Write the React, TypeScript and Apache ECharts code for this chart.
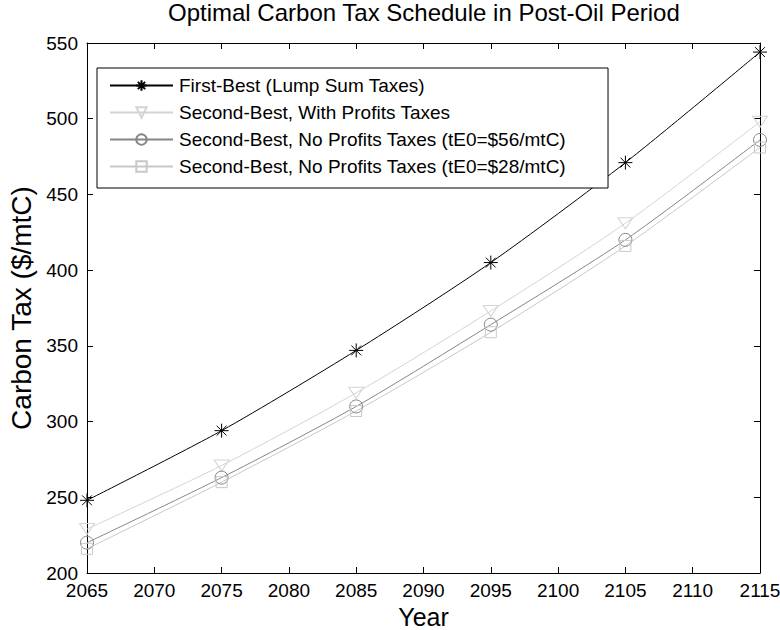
import React, { useEffect, useRef } from "react";
import * as echarts from "echarts";

const years = [2065, 2075, 2085, 2095, 2105, 2115];
const firstBest = [248, 294, 347, 405, 471, 544];
const withProfits = [229, 271, 319, 373, 431, 498];
const noProfits56 = [220, 263, 310, 364, 420, 486];
const noProfits28 = [216, 260, 307, 359, 416, 481];

const seriesNames = [
  "First-Best (Lump Sum Taxes)",
  "Second-Best, With Profits Taxes",
  "Second-Best, No Profits Taxes (tE0=$56/mtC)",
  "Second-Best, No Profits Taxes (tE0=$28/mtC)",
];

const FONT = "'Liberation Sans', Arial, Helvetica, sans-serif";

const STAR = "path://M10,0L10,20M0,10L20,10M3,3L17,17M3,17L17,3";
const TRI_DOWN = "path://M0,0L20,0L10,17Z";

function pairs(vals: number[]) {
  return years.map((y, i) => [y, vals[i]]);
}

export default function App() {
  const ref = useRef<HTMLDivElement>(null);
  useEffect(() => {
    if (!ref.current) return;
    const chart = echarts.init(ref.current, undefined, { renderer: "svg" });
    const mk = (
      name: string,
      vals: number[],
      color: string,
      symbol: string,
      size: number | number[]
    ) => ({
      name,
      type: "line",
      data: pairs(vals),
      smooth: 0.25,
      symbol,
      symbolSize: size,
      symbolKeepAspect: true,
      showAllSymbol: true,
      lineStyle: { color, width: 1 },
      itemStyle: { color: "transparent", borderColor: color, borderWidth: 1 },
      emphasis: { disabled: true },
      z: 3,
    });
    chart.setOption({
      animation: false,
      backgroundColor: "#fff",
      textStyle: { fontFamily: FONT },
      title: {
        text: "Optimal Carbon Tax Schedule in Post-Oil Period",
        left: 168,
        top: 0,
        padding: 0,
        textStyle: { fontFamily: FONT, fontSize: 24, fontWeight: "normal", color: "#000" },
      },
      grid: { left: 87, right: 20, top: 43, bottom: 57, outerBoundsMode: "none" },
      legend: {
        orient: "vertical",
        left: 97,
        top: 68,
        data: seriesNames,
        backgroundColor: "#fff",
        borderColor: "#000",
        borderWidth: 1,
        padding: [8, 42, 12, 12],
        itemWidth: 63,
        itemHeight: 13,
        itemGap: 8,
        selectedMode: false,
        textStyle: { fontFamily: FONT, fontSize: 19, color: "#000", padding: [0, 0, 0, 1] },
      },
      xAxis: [
        {
          type: "value",
          min: 2065,
          max: 2115,
          interval: 5,
          name: "Year",
          nameLocation: "middle",
          nameGap: 31,
          nameTextStyle: { fontFamily: FONT, fontSize: 25, color: "#000" },
          axisLine: { show: true, lineStyle: { color: "#000", width: 1 } },
          axisTick: { show: true, inside: true, length: 6, lineStyle: { color: "#000" } },
          axisLabel: {
            fontFamily: FONT,
            fontSize: 19,
            color: "#000",
            margin: 8,
            formatter: (v: number) => String(v),
          },
          splitLine: { show: false },
        },
        {
          type: "value",
          position: "top",
          min: 2065,
          max: 2115,
          interval: 5,
          axisLine: { show: true, lineStyle: { color: "#000", width: 1 } },
          axisTick: { show: true, inside: true, length: 6, lineStyle: { color: "#000" } },
          axisLabel: { show: false },
          splitLine: { show: false },
        },
      ],
      yAxis: [
        {
          type: "value",
          min: 200,
          max: 550,
          interval: 50,
          name: "Carbon Tax ($/mtC)",
          nameLocation: "middle",
          nameGap: 52,
          nameTextStyle: { fontFamily: FONT, fontSize: 28, color: "#000" },
          axisLine: { show: true, lineStyle: { color: "#000", width: 1 } },
          axisTick: { show: true, inside: true, length: 6, lineStyle: { color: "#000" } },
          axisLabel: { fontFamily: FONT, fontSize: 19, color: "#000", margin: 9 },
          splitLine: { show: false },
        },
        {
          type: "value",
          position: "right",
          min: 200,
          max: 550,
          interval: 50,
          axisLine: { show: true, lineStyle: { color: "#000", width: 1 } },
          axisTick: { show: true, inside: true, length: 6, lineStyle: { color: "#000" } },
          axisLabel: { show: false },
          splitLine: { show: false },
        },
      ],
      series: [
        mk(seriesNames[0], firstBest, "#000000", STAR, 14),
        mk(seriesNames[1], withProfits, "#d4d4d4", TRI_DOWN, [15, 13]),
        mk(seriesNames[2], noProfits56, "#868686", "circle", 13),
        mk(seriesNames[3], noProfits28, "#c8c8c8", "rect", 11),
      ],
    });
    return () => chart.dispose();
  }, []);
  return <div ref={ref} style={{ width: 780, height: 630, position: "absolute", left: 0, top: 0 }} />;
}
